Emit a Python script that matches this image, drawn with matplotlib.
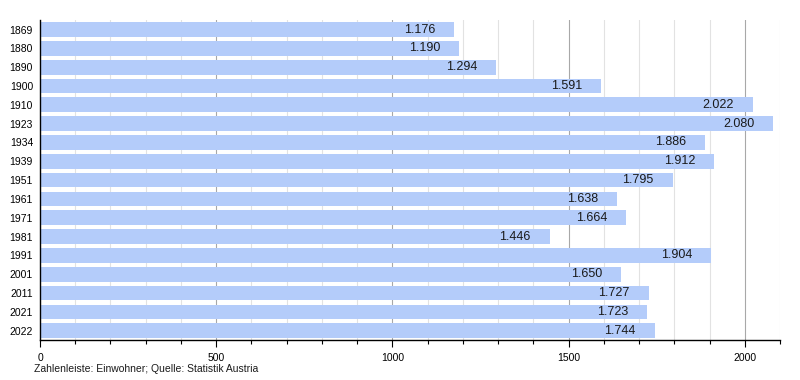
import matplotlib
matplotlib.use("Agg")
import matplotlib.pyplot as plt
from matplotlib.ticker import MultipleLocator

years = ["1869", "1880", "1890", "1900", "1910", "1923", "1934", "1939", "1951",
         "1961", "1971", "1981", "1991", "2001", "2011", "2021", "2022"]
population = [1176, 1190, 1294, 1591, 2022, 2080, 1886, 1912, 1795,
              1638, 1664, 1446, 1904, 1650, 1727, 1723, 1744]

plt.rcParams['font.family'] = ['Liberation Sans', 'DejaVu Sans']

fig = plt.figure(figsize=(8, 3.8), dpi=100)
ax = fig.add_axes([0.05, 0.105, 0.925, 0.842])

pos = list(range(len(years)))
ax.barh(pos, population, height=0.78, color='#b4ccfa', zorder=2)

for p, v in zip(pos, population):
    label = f"{v:,}".replace(",", ".")
    ax.annotate(label, xy=(v, p), xytext=(-13.5, 0), textcoords='offset points',
                ha='right', va='center', fontsize=9, color='#1a1a1a', zorder=3)

ax.set_xlim(0, 2100)
ax.set_ylim(len(years) - 0.5, -0.5)
ax.set_yticks(pos)
ax.set_yticklabels(years, fontsize=7.5)
ax.tick_params(axis='y', length=0, pad=5)

ax.xaxis.set_major_locator(MultipleLocator(500))
ax.xaxis.set_minor_locator(MultipleLocator(100))
ax.tick_params(axis='x', which='major', length=5, width=0.8, labelsize=7.5, pad=4, direction='out')
ax.tick_params(axis='x', which='minor', length=3, width=0.8, direction='out')

ax.grid(axis='x', which='major', color='#a8a8a8', linewidth=0.8, zorder=1)
ax.grid(axis='x', which='minor', color='#e2e2e2', linewidth=0.8, zorder=1)
ax.set_axisbelow(True)

for s in ['top', 'right']:
    ax.spines[s].set_visible(False)
ax.spines['left'].set_color('black')
ax.spines['bottom'].set_color('black')
ax.spines['left'].set_linewidth(1.0)
ax.spines['bottom'].set_linewidth(1.0)

fig.text(34 / 800, 1 - 369 / 380, "Zahlenleiste: Einwohner; Quelle: Statistik Austria",
         fontsize=7.5, ha='left', va='center', color='#1a1a1a')

fig.savefig("out.png", dpi=100)
